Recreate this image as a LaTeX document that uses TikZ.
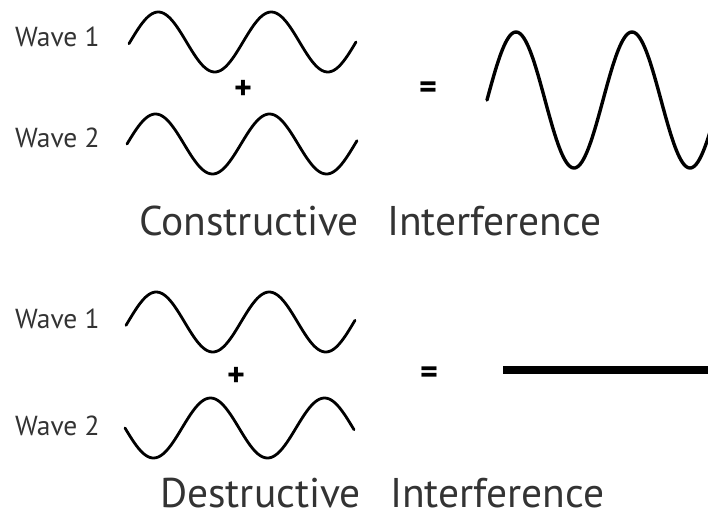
\documentclass[tikz,border=0pt]{standalone}
\usepackage{fontspec}
\setmainfont{PT Sans}
\begin{document}
\begin{tikzpicture}[x=1pt,y=-1pt,
  wave/.style={line width=2.8pt,line cap=round,line join=round},
  small/.style={font=\fontsize{27.5}{30}\selectfont,text=black!80,inner sep=0pt,text depth=0pt,anchor=base west},
  big/.style={font=\fontsize{41.5}{44}\selectfont,text=black!80,inner sep=0pt,text depth=0pt,anchor=base west},
  op/.style={font=\fontsize{34}{36}\selectfont\bfseries,inner sep=0pt}]
\useasboundingbox (0,0) rectangle (708,515);
\begin{scope}
\clip (0,0) rectangle (708,515);
% Constructive
\node[small] (w1a) at (15,46) {Wave 1};
\node[small] (w2a) at (15,147) {Wave 2};
\draw[wave] plot[domain=129:356,samples=120,smooth] (\x,{42-30*sin((\x-130)*3.1858)});
\draw[wave] plot[domain=127:357,samples=120,smooth] (\x,{144-30*sin((\x-127)*3.1579)});
\node[op] (pa) at (243,90) {+};
\node[op] (ea) at (428,90) {=};
\draw[wave,line width=3.4pt] plot[domain=487:712,samples=160,smooth] (\x,{100-68*sin((\x-487)*3.1034)});
\node[big] (ca) at (139,235) {Constructive};
\node[big] (ia) at (387,235) {Interference};
% Destructive
\node[small] (w1b) at (15,328) {Wave 1};
\node[small] (w2b) at (15,435) {Wave 2};
\draw[wave] plot[domain=126:355,samples=120,smooth] (\x,{322-30*sin((\x-128)*3.1858)});
\draw[wave] plot[domain=125:354,samples=120,smooth] (\x,{428+30*sin((\x-125)*3.1579)});
\node[op] (pb) at (236,377) {+};
\node[op] (eb) at (429,375) {=};
\coordinate (la) at (503,370);
\coordinate (lb) at (712,370);
\draw[line width=8pt] (la) -- (lb);
\node[big] (cb) at (160,507) {Destructive};
\node[big] (ib) at (390,507) {Interference};
\end{scope}
\end{tikzpicture}
\end{document}
